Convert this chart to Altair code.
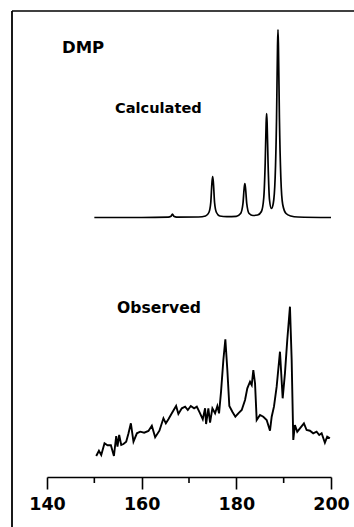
import altair as alt
import pandas as pd

# Calculated spectrum (ppm, relative intensity above its baseline)
calc_ppm = [150.0, 160.0, 165.6, 166.2, 166.5, 166.8, 167.4, 172.0, 173.5, 174.2, 174.6, 174.85,
            175.0, 175.15, 175.4, 175.8, 176.5, 178.0, 180.0, 180.9, 181.4, 181.65, 181.8, 181.95,
            182.2, 182.7, 183.5, 184.5, 185.3, 185.8, 186.1, 186.3, 186.4, 186.5, 186.7, 187.0,
            187.4, 187.8, 188.2, 188.5, 188.7, 188.8, 188.9, 189.1, 189.4, 189.8, 190.5, 191.5,
            193.0, 200.0]
calc_int = [0, 0, 0.3, 1.2, 3.5, 1.2, 0.3, 0.5, 1.5, 5, 15, 35,
            41, 35, 15, 5, 1.5, 0.8, 1.2, 4, 14, 29, 34, 29,
            14, 4, 2, 2.5, 6, 20, 55, 95, 104, 95, 55, 18,
            9, 14, 40, 100, 170, 188, 170, 100, 40, 13, 4, 1.5,
            0.5, 0]

# Observed spectrum (ppm, intensity)
obs_ppm = [150.40, 150.97, 151.46, 152.15, 152.78, 153.50, 154.14, 154.62, 154.89, 155.25,
           155.68, 156.16, 156.73, 157.22, 157.72, 158.27, 158.99, 159.68, 160.53, 161.43,
           162.15, 162.85, 163.75, 164.60, 165.11, 165.65, 166.37, 167.28, 167.76, 168.48,
           169.18, 169.75, 170.38, 171.08, 171.65, 172.34, 172.91, 173.40, 173.61, 174.09,
           174.45, 174.94, 175.51, 175.99, 176.35, 176.77, 177.26, 177.68, 178.10, 178.52,
           179.16, 179.79, 180.42, 181.14, 181.84, 182.32, 182.89, 183.25, 183.59, 183.95,
           184.30, 185.00, 185.70, 186.41, 187.11, 187.47, 187.95, 188.52, 189.22, 189.79,
           190.27, 190.76, 191.33, 191.69, 192.03, 192.38, 192.87, 193.44, 194.28, 194.85,
           195.55, 196.24, 196.96, 197.51, 198.02, 198.71, 199.20, 199.77]
obs_int = [21, 26.3, 22, 33.7, 31.7, 31.7, 21, 41, 30.3, 42,
           32, 33, 35.3, 43.7, 53.7, 35.3, 43.7, 45.3, 44.3, 46,
           51.3, 39.7, 46.3, 58.7, 53.7, 57.7, 63.7, 71, 63, 68.7,
           70.3, 67, 71, 68.7, 70.3, 63.7, 57.7, 68.7, 53, 68.7,
           54.3, 68.7, 63.7, 71, 63.7, 85.3, 117, 137.7, 107, 71,
           65.3, 60.3, 63.7, 67, 77, 88.7, 95.3, 92, 107, 93.7,
           57, 62, 60.3, 57, 46.3, 60.3, 70.3, 90.3, 125.3, 78.7,
           103.7, 137, 170.3, 117, 37, 52, 45.3, 48.7, 53.7, 47,
           46.3, 43.7, 45.3, 42, 43.7, 34.3, 40.3, 38.7]

major_ticks = [140, 160, 180, 200]
minor_ticks = [150, 170, 190]

FONT = "DejaVu Sans"
W, H = 284, 466

calc_df = pd.DataFrame({"ppm": calc_ppm, "intensity": calc_int})
obs_df = pd.DataFrame({"ppm": obs_ppm, "intensity": obs_int})
minor_df = pd.DataFrame({"ppm": minor_ticks})

xscale = alt.Scale(domain=[140, 200], nice=False, zero=False)
xaxis = alt.Axis(values=major_ticks, title=None, grid=False, domainColor="black",
                 domainWidth=1.6, tickColor="black", tickWidth=1.6, tickSize=12,
                 labelFont=FONT, labelFontSize=17.5, labelFontWeight="bold",
                 labelColor="black", labelPadding=6, labelFlush=False)

calc = alt.Chart(calc_df).mark_line(color="black", strokeWidth=1.7, interpolate="monotone").encode(
    x=alt.X("ppm:Q", scale=xscale, axis=xaxis),
    y=alt.Y("intensity:Q", scale=alt.Scale(domain=[0, 188], range=[206.5, 18.5]), axis=None),
)

obs = alt.Chart(obs_df).mark_line(color="black", strokeWidth=1.9).encode(
    x=alt.X("ppm:Q", scale=xscale, axis=xaxis),
    y=alt.Y("intensity:Q", scale=alt.Scale(domain=[0, 466], range=[466, 0]), axis=None),
)

minor = alt.Chart(minor_df).mark_rule(color="black", strokeWidth=1.6).encode(
    x=alt.X("ppm:Q", scale=xscale, axis=xaxis),
    y=alt.value(H),
    y2=alt.value(H + 6),
)

frame_top = alt.Chart(pd.DataFrame({"a": [0]})).mark_rule(color="black", strokeWidth=1.5).encode(
    x=alt.value(-35), x2=alt.value(W + 30), y=alt.value(0)
)
frame_left = alt.Chart(pd.DataFrame({"a": [0]})).mark_rule(color="black", strokeWidth=1.8).encode(
    x=alt.value(-35), y=alt.value(0), y2=alt.value(H + 60)
)

def label(text, x, y, size):
    return alt.Chart(pd.DataFrame({"t": [text]})).mark_text(
        font=FONT, fontWeight="bold", fontSize=size, color="black",
        align="left", baseline="middle"
    ).encode(x=alt.value(x), y=alt.value(y), text="t:N")

chart = alt.layer(
    frame_top, frame_left, calc, obs, minor,
    label("DMP", 15, 37, 16.5),
    label("Calculated", 68, 98, 14.6),
    label("Observed", 70, 297, 15.6),
).resolve_scale(y="independent").properties(
    width=W, height=H,
    autosize=alt.AutoSizeParams(type="none"),
    padding={"left": 47, "top": 11, "right": 23, "bottom": 50},
).configure_view(stroke=None)

chart.save("out.html", embed_options={"renderer": "svg", "actions": False})
